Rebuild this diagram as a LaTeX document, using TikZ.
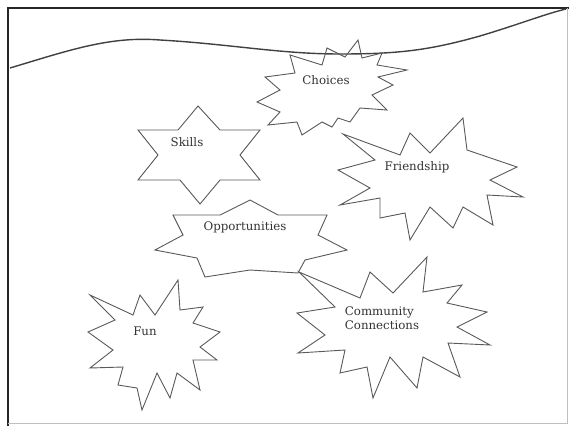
\documentclass[tikz,border=0pt]{standalone}
\usepackage{fontspec}
\setmainfont{DejaVu Serif}
\usepackage{tikz}
\begin{document}
\begin{tikzpicture}[x=1pt, y=-1pt,
    every node/.style={font=\fontsize{11.8}{14}\selectfont, text=black!80, inner sep=1pt},
    burst/.style={draw=black!65, line width=0.9pt, line join=miter},
    frameline/.style={draw=black!85, line width=1.6pt},
    wave/.style={draw=black!75, line width=1.4pt}]
    \useasboundingbox (0,0) rectangle (569,426);

    \draw[frameline] (8,426) -- (8,8) -- (569,8);
    \draw[black!25, line width=0.6pt] (567,8) -- (567,423) -- (8,423);
    \draw[wave] (10,68) .. controls (70,50) and (110,36) .. (160,40)
        .. controls (230,44) and (280,54) .. (340,54)
        .. controls (400,54) and (430,50) .. (480,36)
        .. controls (520,24) and (545,14) .. (566,9);

    % Choices
    \draw[burst] (358,40) -- (362,58) -- (382,53) -- (377,65) -- (407,70) -- (378,77)
        -- (393,85) -- (372,95) -- (387,110) -- (360,108) -- (350,122) -- (338,118)
        -- (332,127) -- (322,122) -- (302,135) -- (297,122) -- (268,125) -- (280,112)
        -- (257,102) -- (280,90) -- (265,77) -- (295,73) -- (290,55) -- (322,65)
        -- (327,48) -- (345,57) -- cycle;
    \node (choices) at (326,80) {Choices};

    % Skills
    \draw[burst] (198,106) -- (220,130) -- (260,130) -- (240,155) -- (260,180)
        -- (220,180) -- (200,204) -- (180,180) -- (138,180) -- (158,155)
        -- (138,130) -- (178,130) -- cycle;
    \node (skills) at (187,142) {Skills};

    % Friendship
    \draw[burst] (343,134) -- (400,155) -- (410,133) -- (430,153) -- (463,118)
        -- (467,150) -- (517,167) -- (490,180) -- (523,197) -- (487,195)
        -- (493,225) -- (463,207) -- (453,228) -- (430,207) -- (410,240)
        -- (405,213) -- (380,218) -- (380,198) -- (340,205) -- (370,188)
        -- (338,170) -- (375,160) -- cycle;
    \node (friendship) at (417,167) {Friendship};

    % Opportunities
    \draw[burst] (173,215) -- (220,215) -- (250,200) -- (278,215) -- (327,215)
        -- (318,235) -- (347,250) -- (305,260) -- (298,273) -- (250,270)
        -- (205,277) -- (197,258) -- (155,250) -- (183,235) -- cycle;
    \node (opportunities) at (245,227) {Opportunities};

    % Fun
    \draw[burst] (90,295) -- (133,315) -- (140,295) -- (155,315) -- (178,280)
        -- (180,310) -- (203,307) -- (193,323) -- (220,332) -- (200,347)
        -- (217,360) -- (193,360) -- (200,390) -- (177,373) -- (170,398)
        -- (157,373) -- (142,410) -- (137,388) -- (118,385) -- (123,367)
        -- (90,368) -- (113,350) -- (88,332) -- (115,320) -- cycle;
    \node (fun) at (145,331) {Fun};

    % Community Connections
    \draw[burst] (299,272) -- (360,298) -- (370,272) -- (393,293) -- (427,257)
        -- (423,292) -- (462,285) -- (447,303) -- (487,312) -- (457,327)
        -- (490,345) -- (448,343) -- (460,377) -- (423,357) -- (417,388)
        -- (390,357) -- (373,398) -- (367,367) -- (340,373) -- (345,350)
        -- (298,353) -- (325,335) -- (297,313) -- (335,307) -- cycle;
    \node[align=left] (community) at (382,318) {Community\\Connections};
\end{tikzpicture}
\end{document}
